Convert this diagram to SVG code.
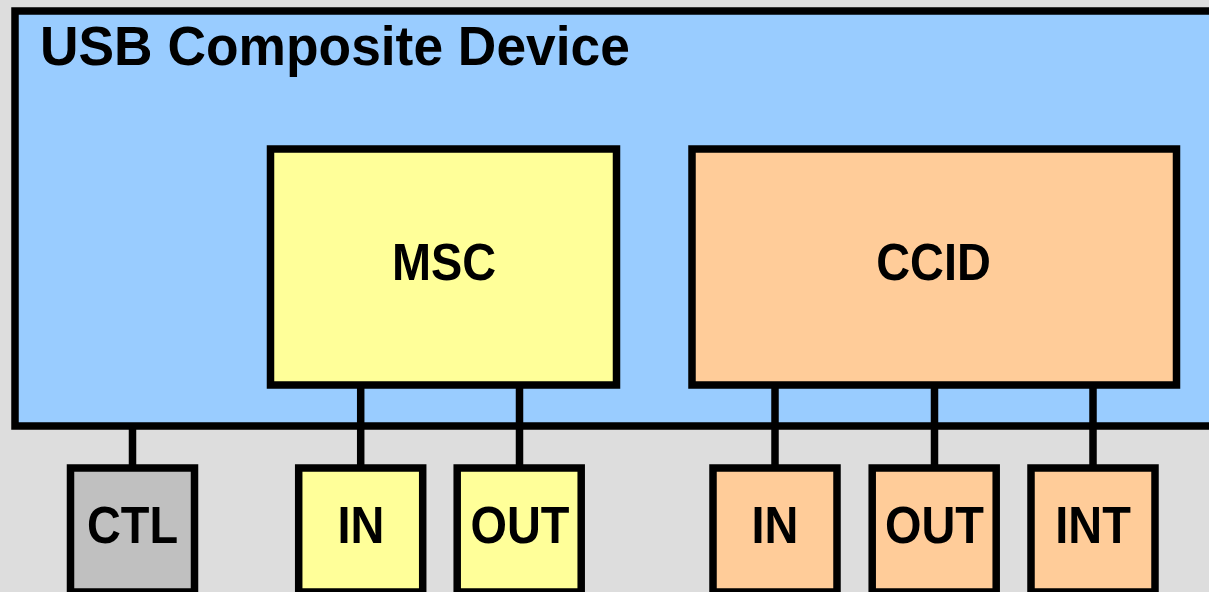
<svg xmlns="http://www.w3.org/2000/svg" width="1209" height="592" viewBox="0 0 1209 592">
  <style>
    .box { stroke: #000; stroke-width: 7.5; }
    .dev { fill: #99ccff; }
    .msc { fill: #ffff99; }
    .ccid { fill: #ffcc99; }
    .ctl { fill: #c0c0c0; }
    .wire { stroke: #000; stroke-width: 7.5; fill: none; }
    text { font-family: "Liberation Sans", Arial, Helvetica, sans-serif; font-weight: bold; fill: #000; }
    .lbl { font-size: 51px; text-anchor: middle; }
    .title { font-size: 55px; }
  </style>

  <!-- backdrop -->
  <rect x="0" y="0" width="1209" height="592" fill="#dddddd"/>

  <!-- composite device container -->
  <g id="composite-device">
    <rect class="box dev" x="15" y="11" width="1210" height="415"/>
    <text class="title" transform="translate(40 65) scale(0.97 1)">USB Composite Device</text>
  </g>

  <!-- endpoint links -->
  <g id="connectors">
    <line class="wire" x1="132.5" y1="426" x2="132.5" y2="468"/>
    <line class="wire" x1="360.7" y1="385" x2="360.7" y2="468"/>
    <line class="wire" x1="519.5" y1="385" x2="519.5" y2="468"/>
    <line class="wire" x1="775" y1="385" x2="775" y2="468"/>
    <line class="wire" x1="934.5" y1="385" x2="934.5" y2="468"/>
    <line class="wire" x1="1093" y1="385" x2="1093" y2="468"/>
  </g>

  <!-- functions -->
  <g id="msc">
    <rect class="box msc" x="270.5" y="149" width="346" height="236"/>
    <text class="lbl" transform="translate(444 280) scale(0.92 1)">MSC</text>
  </g>
  <g id="ccid">
    <rect class="box ccid" x="692" y="149" width="484.5" height="236"/>
    <text class="lbl" transform="translate(933.5 280) scale(0.92 1)">CCID</text>
  </g>

  <!-- endpoints -->
  <g id="ep-ctl">
    <rect class="box ctl" x="70.5" y="468" width="124" height="124"/>
    <text class="lbl" transform="translate(132.5 542.7) scale(0.92 1)">CTL</text>
  </g>
  <g id="ep-msc-in">
    <rect class="box msc" x="298.7" y="468" width="124" height="124"/>
    <text class="lbl" transform="translate(361 542.7) scale(0.92 1)">IN</text>
  </g>
  <g id="ep-msc-out">
    <rect class="box msc" x="457.2" y="468" width="124" height="124"/>
    <text class="lbl" transform="translate(520 542.7) scale(0.92 1)">OUT</text>
  </g>
  <g id="ep-ccid-in">
    <rect class="box ccid" x="713" y="468" width="124" height="124"/>
    <text class="lbl" transform="translate(775 542.7) scale(0.92 1)">IN</text>
  </g>
  <g id="ep-ccid-out">
    <rect class="box ccid" x="872.2" y="468" width="124" height="124"/>
    <text class="lbl" transform="translate(934.5 542.7) scale(0.92 1)">OUT</text>
  </g>
  <g id="ep-ccid-int">
    <rect class="box ccid" x="1031" y="468" width="124" height="124"/>
    <text class="lbl" transform="translate(1093 542.7) scale(0.92 1)">INT</text>
  </g>
</svg>
